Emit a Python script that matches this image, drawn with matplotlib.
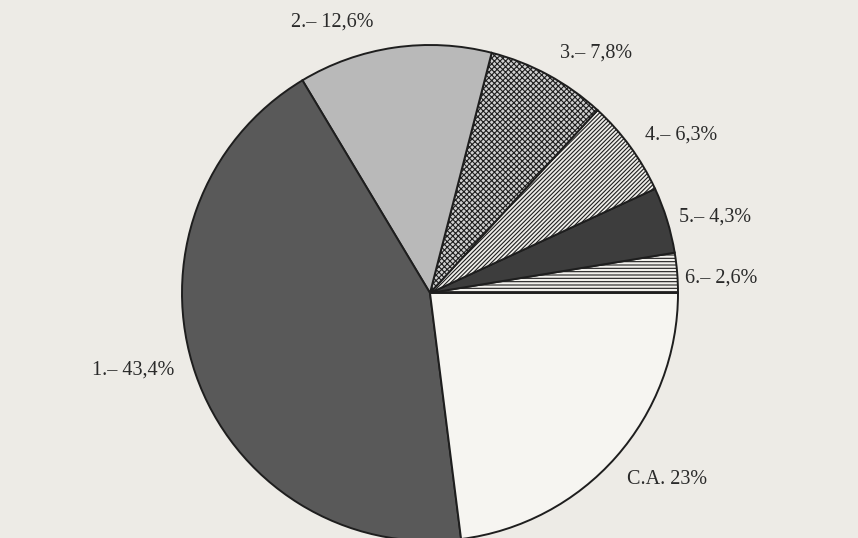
import matplotlib.pyplot as plt

# Data (counter-clockwise from 3 o'clock)
labels = ["6.\u2013 2,6%", "5.\u2013 4,3%", "4.\u2013 6,3%", "3.\u2013 7,8%",
          "2.\u2013 12,6%", "1.\u2013 43,4%", "C.A. 23%"]
values = [2.6, 4.3, 6.3, 7.8, 12.6, 43.4, 23.0]

# Fill styles per slice
face_colors = ["#f2f1ed", "#3d3d3d", "#eeede9", "#d0d0d0", "#b9b9b9", "#595959", "#f6f5f1"]
hatches = ["-----", None, "////////", "xxxxxx", None, None, None]

# Label positions in pixel coords (x, y from top)
label_pos = [(721, 278), (715, 217), (681, 135), (596, 53),
             (332, 22), (133, 370), (667, 479)]

W, H = 858, 538
bg = "#edebe6"
plt.rcParams['hatch.linewidth'] = 0.8
plt.rcParams['hatch.color'] = "#4a4a4a"

fig = plt.figure(figsize=(W / 100, H / 100), dpi=100, facecolor=bg)
ax = fig.add_axes([0, 0, 1, 1])
ax.set_facecolor(bg)

wedges, _ = ax.pie(values, startangle=0, counterclock=True,
                   center=(430, H - 293), radius=248, frame=True,
                   colors=face_colors,
                   wedgeprops=dict(edgecolor="#1e1e1e", linewidth=1.4))
for w, h in zip(wedges, hatches):
    if h:
        w.set_hatch(h)

ax.set_xlim(0, W)
ax.set_ylim(0, H)
ax.set_aspect('equal')
ax.axis('off')

for lab, (x, y) in zip(labels, label_pos):
    ax.text(x, H - y, lab, ha='center', va='center', fontsize=14.5,
            family='Liberation Serif', color="#2a2a2a")

fig.savefig("out.png", dpi=100, facecolor=bg)
